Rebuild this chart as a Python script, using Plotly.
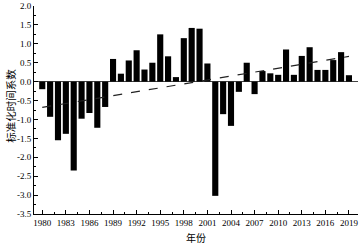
import numpy as np
import plotly.graph_objects as go

years = list(range(1980, 2020))
values = [-0.20, -0.93, -1.55, -1.38, -2.35, -0.98, -0.83, -1.22, -0.67,
          0.60, 0.21, 0.56, 0.83, 0.32, 0.50, 1.25, 0.67, 0.12, 1.15, 1.42,
          1.40, 0.48, -3.02, -0.86, -1.17, -0.27, 0.50, -0.33, 0.28, 0.22,
          0.18, 0.85, 0.18, 0.68, 0.91, 0.31, 0.31, 0.57, 0.78, 0.17]
tick_years = list(range(1980, 2020, 3))
y_ticks = [2.0, 1.5, 1.0, 0.5, 0.0, -0.5, -1.0, -1.5, -2.0, -2.5, -3.0, -3.5]

slope, intercept = np.polyfit(years, values, 1)
trend = [slope * y + intercept for y in years]

fig = go.Figure()
fig.add_trace(go.Bar(x=years, y=values, marker=dict(color="black", line=dict(width=0)),
                     width=0.78))
fig.add_trace(go.Scatter(x=years, y=trend, mode="lines",
                         line=dict(color="#222", width=1.2, dash="dash")))

serif = "Liberation Serif, Times New Roman, serif"
fig.update_layout(
    width=360, height=247,
    margin=dict(l=34, r=2, t=6, b=33),
    paper_bgcolor="white", plot_bgcolor="white",
    showlegend=False,
    font=dict(family=serif, size=9, color="black"),
    xaxis=dict(range=[1978.95, 2020.15], tickvals=tick_years,
               ticktext=[str(t) for t in tick_years],
               ticks="inside", ticklen=4, tickwidth=1, tickcolor="black",
               minor=dict(dtick=1.5, tick0=1980, ticks="inside", ticklen=2, tickcolor="black"),
               showline=True, linecolor="black", linewidth=1, showgrid=False,
               zeroline=False, automargin=False,
               tickfont=dict(family=serif, size=9)),
    yaxis=dict(range=[-3.5, 2.0], tickvals=y_ticks,
               ticktext=[f"{v:.1f}" for v in y_ticks],
               ticks="inside", ticklen=4, tickwidth=1, tickcolor="black",
               minor=dict(dtick=0.25, tick0=0, ticks="inside", ticklen=2, tickcolor="black"),
               showline=True, linecolor="black", linewidth=1, showgrid=False,
               zeroline=True, zerolinecolor="#444", zerolinewidth=1, automargin=False,
               tickfont=dict(family=serif, size=9)),
    annotations=[
        dict(text="年份", xref="paper", yref="paper", x=0.5, y=0, yshift=-23,
             xanchor="center", yanchor="middle", showarrow=False,
             font=dict(family="Noto Sans CJK SC", size=10, color="black")),
        dict(text="标准化时间系数", xref="paper", yref="paper", x=0, xshift=-23, y=0.52,
             xanchor="center", yanchor="middle", showarrow=False, textangle=-90,
             font=dict(family="Noto Sans CJK SC", size=10.5, color="black")),
    ],
)
fig.write_html("out.html", config={"displayModeBar": False},
               post_script="document.body.style.margin='0';")
